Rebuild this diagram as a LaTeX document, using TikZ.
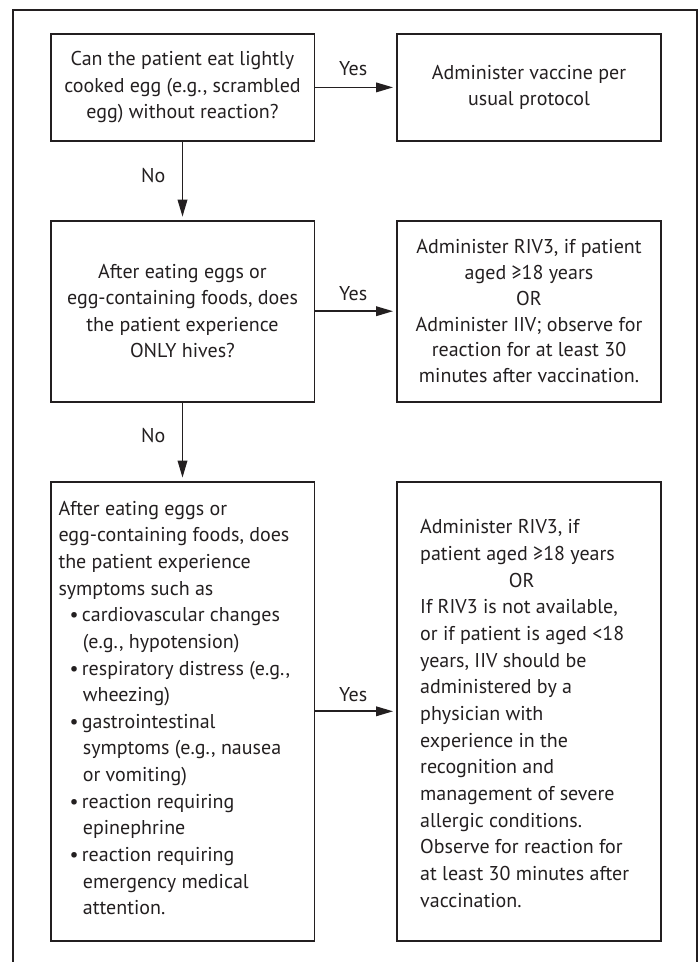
\documentclass[tikz,border=0pt]{standalone}
\usepackage{fontspec}
\setmainfont{PT Sans}
\usetikzlibrary{arrows.meta}
\definecolor{ink}{HTML}{231F20}
\newcommand\bulitem{\makebox[23.4pt][l]{\hspace*{11pt}•}}
\newcommand\contline{\hspace*{24.4pt}}
\begin{document}
\begin{tikzpicture}[x=1pt,y=-1pt,
  box/.style={draw=ink, line width=1.8pt, minimum width=263.8pt, inner sep=0pt, outer sep=0pt,
    align=center, font=\fontsize{20}{26.5}\selectfont, text=ink},
  txt/.style={align=left, inner sep=0pt, font=\fontsize{20}{26.65}\selectfont, text=ink},
  lbl/.style={inner sep=0pt, font=\fontsize{20}{23}\selectfont, text=ink},
  arr/.style={draw=ink, line width=1.8pt, -{Triangle[length=17pt,width=9.5pt]}, shorten >=4pt},
]
\useasboundingbox (0,0) rectangle (699,962);
\draw[ink, line width=1.8pt] (12.7,975) -- (12.7,10) -- (697,10) -- (697,975);

\node[box, minimum height=106.7pt] (q1) at (182.5,87.4)
  {Can the patient eat lightly\\cooked egg (e.g., scrambled\\egg) without reaction?};
\node[box, minimum height=106.7pt] (a1) at (529,87.4)
  {Administer vaccine per\\usual protocol};
\node[box, minimum height=181pt] (q2) at (182.5,311.2)
  {After eating eggs or\\egg-containing foods, does\\the patient experience\\ONLY hives?};
\node[box, minimum height=181pt, font=\fontsize{20}{25.7}\selectfont] (a2) at (529,311.2)
  {Administer RIV3, if patient\\aged ≥18 years\\OR\\Administer IIV; observe for\\reaction for at least 30\\minutes after vaccination.};
\node[box, minimum height=459.3pt] (q3) at (182.5,711.3) {};
\node[box, minimum height=459.3pt] (a3) at (529,711.3) {};

\node[txt, anchor=west] (q3t) at (58.3,708)
  {After eating eggs or\\
   egg-containing foods, does\\
   the patient experience\\
   symptoms such as\\
   \bulitem cardiovascular changes\\
   \contline (e.g., hypotension)\\
   \bulitem respiratory distress (e.g.,\\
   \contline wheezing)\\
   \bulitem gastrointestinal\\
   \contline symptoms (e.g., nausea\\
   \contline or vomiting)\\
   \bulitem reaction requiring\\
   \contline epinephrine\\
   \bulitem reaction requiring\\
   \contline emergency medical\\
   \contline attention.};
\node[txt, anchor=west] (a3t) at (420,713.5)
  {Administer RIV3, if\\
   patient aged ≥18 years\\
   \makebox[203pt]{OR}\\
   If RIV3 is not available,\\
   or if patient is aged <18\\
   years, IIV should be\\
   administered by a\\
   physician with\\
   experience in the\\
   recognition and\\
   management of severe\\
   allergic conditions.\\
   Observe for reaction for\\
   at least 30 minutes after\\
   vaccination.};

\draw[arr] (q1) -- node[lbl, xshift=-2.5pt, yshift=19pt] (y1) {Yes} (a1);
\draw[arr] (q2) -- node[lbl, xshift=-2.5pt, yshift=18pt] (y2) {Yes} (a2);
\draw[arr] (q3) -- node[lbl, xshift=-2.5pt, yshift=16.5pt] (y3) {Yes} (a3);
\draw[arr] (q1) -- node[lbl, xshift=-29.3pt, yshift=5.7pt] (n1) {No} (q2);
\draw[arr] (q2) -- node[lbl, xshift=-29.3pt, yshift=5.7pt] (n2) {No} (q3);
\end{tikzpicture}
\end{document}
